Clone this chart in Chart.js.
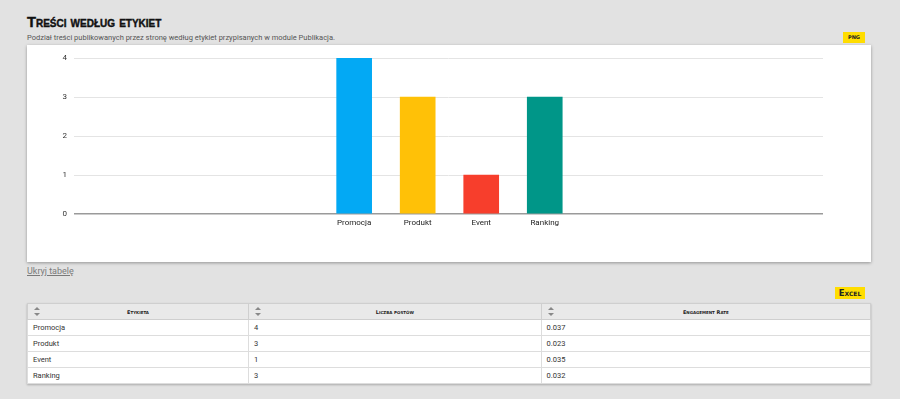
<!DOCTYPE html>
<html lang="pl">
<head>
<meta charset="utf-8">
<script src="https://cdn.jsdelivr.net/npm/chart.js@4"></script>
<style>
  html, body { margin: 0; padding: 0; }
  body { width: 900px; height: 399px; background: #e2e2e2; font-family: Roboto, "Noto Sans", sans-serif; position: relative; overflow: hidden; }
  .title { position: absolute; left: 27px; top: 14px; font-family: "Liberation Sans", Arial, sans-serif; font-weight: bold; font-variant: small-caps; font-size: 14.7px; color: #111; -webkit-text-stroke: 0.4px #111; }
  .subtitle { position: absolute; left: 27px; top: 33px; font-size: 7.5px; color: #555; }
  .btn { position: absolute; background: #ffdd00; color: #222; font-family: "DejaVu Sans", sans-serif; font-weight: bold; font-variant: small-caps; text-align: center; }
  .chart-box { position: absolute; left: 27px; top: 45px; width: 844px; height: 217px; background: #fff; box-shadow: 0 1px 3px rgba(0,0,0,0.35); }
  .toggle { position: absolute; left: 27px; top: 266px; font-size: 9px; color: #7a7a7a; text-decoration: underline; }
  table { position: absolute; left: 27px; top: 303px; width: 844px; border-collapse: collapse; font-size: 7.5px; color: #333; box-shadow: 0 1px 2px rgba(0,0,0,0.25); }
  th { background: #e9e9e9; height: 15px; padding: 0; border: 1px solid #cfcfcf; font-family: "DejaVu Sans", sans-serif; font-variant: small-caps; font-size: 5px; font-weight: bold; color: #222; position: relative; }
  td { background: #fff; height: 15px; padding: 0 0 0 5px; border: 1px solid #ddd; }
  .sort { position: absolute; left: 6px; top: 3px; width: 7px; height: 9px; }
  .sort:before, .sort:after { content: ""; position: absolute; left: 0; border-left: 3.5px solid transparent; border-right: 3.5px solid transparent; }
  .sort:before { top: 0; border-bottom: 3.5px solid #888; }
  .sort:after { bottom: 0; border-top: 3.5px solid #888; }
</style>
</head>
<body>
  <div class="title">Treści według etykiet</div>
  <div class="subtitle">Podział treści publikowanych przez stronę według etykiet przypisanych w module Publikacja.</div>
  <div class="btn" style="left:843px; top:32px; width:22px; height:11px; line-height:11px; font-size:7px;">png</div>
  <div class="chart-box"><canvas id="tagsChart" width="844" height="217"></canvas></div>
  <div class="toggle">Ukryj tabelę</div>
  <div class="btn" style="left:835px; top:287px; width:30px; height:12px; line-height:12px; font-size:8.5px;">Excel</div>
  <table id="tagsTable"></table>

<script>
const categories = ["Promocja", "Produkt", "Event", "Ranking"];
const posts = [4, 3, 1, 3];
const engagement = ["0.037", "0.023", "0.035", "0.032"];
const barColors = ["#03a9f4", "#ffc107", "#f73e2c", "#009688"];
const headers = ["Etykieta", "Liczba postów", "Engagement Rate"];

// table below the chart
const table = document.getElementById("tagsTable");
let html = "<tr>" + headers.map((h, i) =>
  `<th style="width:${[221, 293, 330][i]}px"><span class="sort"></span>${h}</th>`).join("") + "</tr>";
categories.forEach((c, i) => {
  html += `<tr><td>${c}</td><td>${posts[i]}</td><td>${engagement[i]}</td></tr>`;
});
table.innerHTML = html;

const ctx = document.getElementById("tagsChart").getContext("2d");
new Chart(ctx, {
  type: "bar",
  data: {
    datasets: [{
      data: posts.map((v, i) => ({ x: i, y: v })),
      backgroundColor: barColors,
      barThickness: 35
    }]
  },
  options: {
    responsive: false,
    animation: false,
    layout: { padding: { top: 13, right: 48, left: 0, bottom: 0 } },
    plugins: { legend: { display: false }, tooltip: { enabled: false } },
    scales: {
      x: {
        type: "linear",
        offset: false,
        min: -4.41,
        max: 7.38,
        afterBuildTicks: (scale) => { scale.ticks = categories.map((c, i) => ({ value: i })); },
        afterFit: (scale) => { scale.height = 48; },
        ticks: {
          callback: (v) => categories[v],
          color: "#222",
          padding: 4,
          font: { size: 8, family: "Roboto" }
        },
        grid: { display: false, drawTicks: false },
        border: { display: false }
      },
      y: {
        min: 0,
        max: 4,
        afterFit: (scale) => { scale.width = 47; },
        ticks: {
          stepSize: 1,
          color: "#333",
          padding: 7,
          font: { size: 8, family: "Roboto" }
        },
        grid: {
          drawTicks: false,
          color: (c) => c.tick && c.tick.value === 0 ? "#9a9a9a" : "#e4e4e4",
          lineWidth: (c) => c.tick && c.tick.value === 0 ? 1.5 : 1
        },
        border: { display: false }
      }
    }
  }
});
</script>
</body>
</html>
